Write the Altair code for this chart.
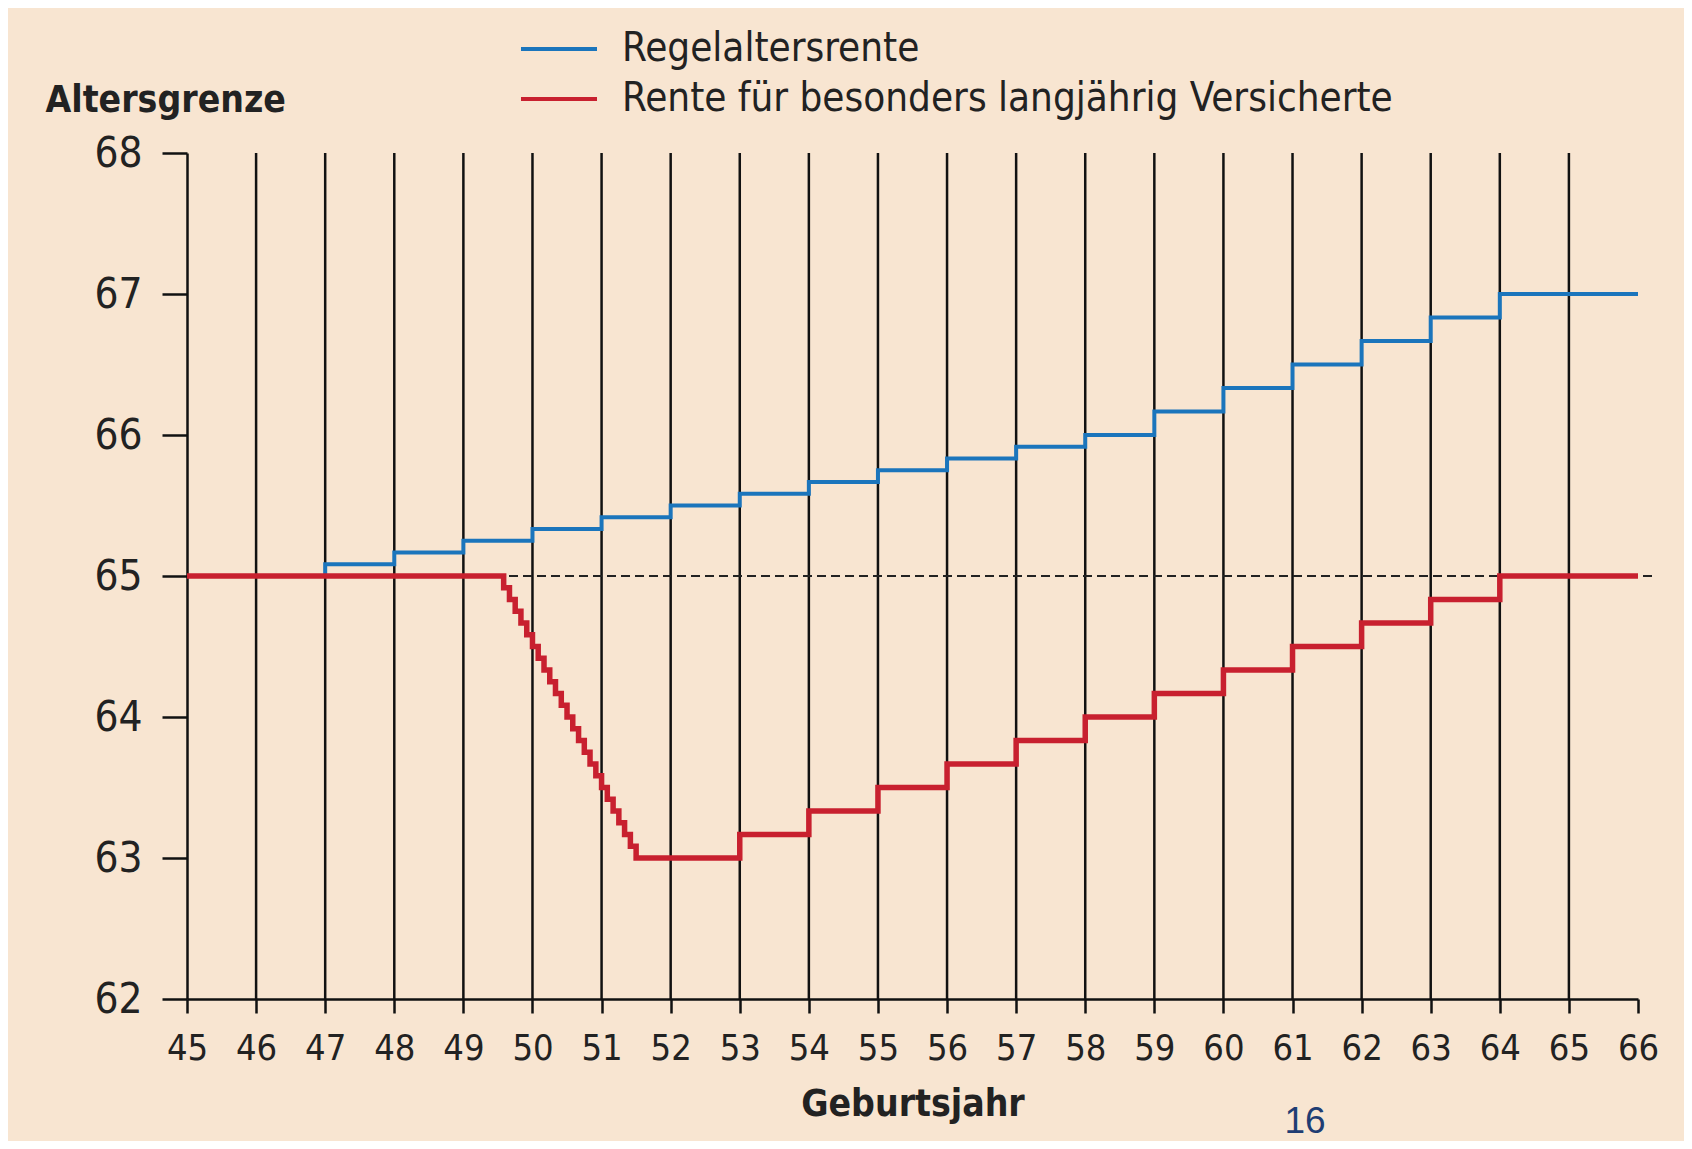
import altair as alt
import pandas as pd

# ---------------- data ----------------
series_names = ["Regelaltersrente", "Rente für besonders langjährig Versicherte"]

blue_x = [45, 47, 48, 49, 50, 51, 52, 53, 54, 55, 56, 57, 58, 59, 60, 61, 62, 63, 64, 66]
blue_y = [65.0, 65.083, 65.167, 65.25, 65.333, 65.417, 65.5, 65.583, 65.667, 65.75,
          65.833, 65.917, 66.0, 66.167, 66.333, 66.5, 66.667, 66.833, 67.0, 67.0]

red_x = [45, 49.583, 49.667, 49.75, 49.833, 49.917, 50.0, 50.083, 50.167, 50.25, 50.333,
         50.417, 50.5, 50.583, 50.667, 50.75, 50.833, 50.917, 51.0, 51.083, 51.167,
         51.25, 51.333, 51.417, 51.5, 53, 54, 55, 56, 57, 58, 59, 60, 61, 62, 63, 64, 66]
red_y = [65.0, 64.917, 64.833, 64.75, 64.667, 64.583, 64.5, 64.417, 64.333, 64.25, 64.167,
         64.083, 64.0, 63.917, 63.833, 63.75, 63.667, 63.583, 63.5, 63.417, 63.333,
         63.25, 63.167, 63.083, 63.0, 63.167, 63.333, 63.5, 63.667, 63.833, 64.0,
         64.167, 64.333, 64.5, 64.667, 64.833, 65.0, 65.0]

grid_years = list(range(46, 66))
x_ticks = list(range(45, 67))
y_ticks = [62, 63, 64, 65, 66, 67, 68]
ref_age = 65
ref_from, ref_to = 45, 66.27
page_number = "16"

# ---------------- styling ----------------
FONT = "Liberation Sans Narrow, DejaVu Sans Condensed, Liberation Sans, sans-serif"
BG = "#f8e5d1"
INK = "#111111"
TXT = "#222222"
W, H = 1451, 846

df_blue = pd.DataFrame({"Geburtsjahr": blue_x, "Alter": blue_y, "Reihe": series_names[0]})
df_red = pd.DataFrame({"Geburtsjahr": red_x, "Alter": red_y, "Reihe": series_names[1]})
df_grid = pd.DataFrame({"Geburtsjahr": grid_years})
df_ref = pd.DataFrame({"Geburtsjahr": [ref_from], "bis": [ref_to], "Alter": [ref_age]})
df_page = pd.DataFrame({"t": [page_number]})

x_scale = alt.Scale(domain=[45, 66], nice=False, zero=False)
y_scale = alt.Scale(domain=[62, 68], nice=False, zero=False)

x_axis = alt.Axis(
    values=x_ticks, format="d", title="Geburtsjahr",
    titleFont=FONT, titleFontSize=37, titleFontWeight="bold", titleColor=TXT,
    titlePadding=20,
    labelFont=FONT, labelFontSize=36, labelColor=TXT, labelPadding=18,
    labelFlush=False, labelOverlap=False,
    tickSize=14, tickWidth=2.5, tickColor=INK,
    domainColor=INK, domainWidth=2.5, grid=False,
)
y_axis = alt.Axis(
    values=y_ticks, format="d", title="Altersgrenze",
    titleAngle=0, titleAlign="left", titleBaseline="middle", titleX=-142, titleY=-53,
    titleFont=FONT, titleFontSize=37, titleFontWeight="bold", titleColor=TXT,
    labelFont=FONT, labelFontSize=42, labelColor=TXT, labelPadding=20,
    tickSize=25, tickWidth=2.5, tickColor=INK,
    domainColor=INK, domainWidth=2.5, grid=False,
)

color_scale = alt.Scale(domain=series_names, range=["#1b75bc", "#c8202f"])
legend = alt.Legend(
    orient="none", legendX=352, legendY=-124, title=None,
    symbolType="M-3,0L3,0", symbolSize=642, symbolStrokeWidth=4,
    labelFont=FONT, labelFontSize=40, labelColor=TXT, labelOffset=43, labelLimit=2000,
    rowPadding=10, padding=0,
)

X = lambda: alt.X("Geburtsjahr:Q", scale=x_scale, axis=x_axis)
Y = lambda: alt.Y("Alter:Q", scale=y_scale, axis=y_axis)

grid = alt.Chart(df_grid).mark_rule(color=INK, strokeWidth=2.5).encode(x=X())

ref = alt.Chart(df_ref).mark_rule(color="#222222", strokeWidth=2, strokeDash=[9, 5]).encode(
    x=X(), x2="bis:Q", y=Y()
)

blue = alt.Chart(df_blue).mark_line(interpolate="step-after", strokeWidth=4).encode(
    x=X(), y=Y(), color=alt.Color("Reihe:N", scale=color_scale, legend=legend)
)
red = alt.Chart(df_red).mark_line(interpolate="step-after", strokeWidth=5.5).encode(
    x=X(), y=Y(), color=alt.Color("Reihe:N", scale=color_scale, legend=legend)
)

page = alt.Chart(df_page).mark_text(
    font="Liberation Sans, Arial, sans-serif", fontSize=37, color="#1f3d73",
    align="center", baseline="middle",
).encode(x=alt.value(1118), y=alt.value(969), text="t:N")

chart = alt.layer(grid, ref, blue, red, page).properties(
    width=W, height=H,
    autosize=alt.AutoSizeParams(type="none"),
    padding={"left": 179, "top": 145, "right": 46, "bottom": 142},
    background=BG,
).configure_view(stroke=None)

chart.save("out.html", embed_options={"renderer": "svg", "actions": False})
